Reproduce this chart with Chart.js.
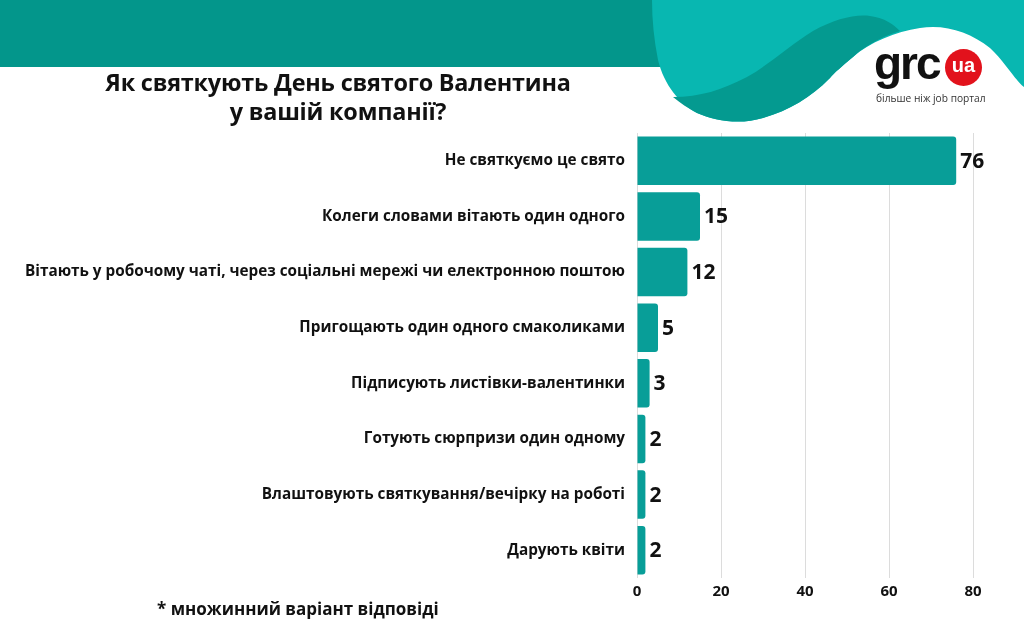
<!DOCTYPE html>
<html><head><meta charset="utf-8">
<script src="https://cdn.jsdelivr.net/npm/chart.js@4.4.0/dist/chart.umd.min.js"></script>
<style>
html,body{margin:0;padding:0;background:#fff;}
#wrap{position:relative;width:1024px;height:625px;overflow:hidden;font-family:"Open Sans",sans-serif;}
#bg{position:absolute;left:0;top:0;}
#c{position:absolute;left:0;top:0;}
.title{position:absolute;left:0px;width:676px;top:68px;text-align:center;font-weight:700;font-size:23.4px;line-height:29px;color:#111;letter-spacing:-0.2px;}
.foot{position:absolute;left:157px;top:597px;font-weight:700;font-size:17px;color:#111;}
.logo{position:absolute;left:874px;top:38px;font-family:"Liberation Sans",Arial,sans-serif;font-weight:700;font-size:46px;letter-spacing:-2px;color:#111;line-height:50px;}
.ua{position:absolute;left:945px;top:49px;width:37px;height:37px;border-radius:50%;background:#E2121C;color:#fff;font-family:"Liberation Sans",Arial,sans-serif;font-weight:700;font-size:20px;text-align:center;line-height:33px;}
.sub{position:absolute;left:876px;top:91px;font-family:"Open Sans",sans-serif;font-size:10.2px;color:#333;}
</style></head>
<body>
<div id="wrap">
<svg id="bg" width="1024" height="625">
  <rect x="0" y="0" width="660" height="67" fill="#03968B"/>
  <path d="M652,0 L1024,0 L1024,87 C1015,80 1005,62 990,48 C970,32 945,24 920,28 C895,32 870,42 853,57 C840,68 835,72 830,78 C810,98 790,110 763,118 C740,125 715,121 697,113 C680,104 664,85 658,60 C654,40 652,20 652,0 Z" fill="#08B7B1"/>
  <path d="M673,97 C700,97 722,90 747,77 C770,64 790,45 813,31 C835,19 855,14 870,16 C885,18 893,24 900,31 C880,37 862,48 853,57 C840,68 835,72 830,78 C810,98 790,110 763,118 C740,125 715,121 697,113 C688,108 680,103 673,97 Z" fill="#049A90"/>
</svg>
<canvas id="c" width="1024" height="625"></canvas>
<div class="title">Як святкують День святого Валентина<br>у вашій компанії?</div>
<div class="logo">grc</div>
<div class="ua">ua</div>
<div class="sub">більше ніж job портал</div>
<div class="foot">* множинний варіант відповіді</div>
</div>
<script>
const categories = [
  "Не святкуємо це свято",
  "Колеги словами вітають один одного",
  "Вітають у робочому чаті, через соціальні мережі чи електронною поштою",
  "Пригощають один одного смаколиками",
  "Підписують листівки-валентинки",
  "Готують сюрпризи один одному",
  "Влаштовують святкування/вечірку на роботі",
  "Дарують квіти"
];
const values = [76, 15, 12, 5, 3, 2, 2, 2];
const xTicks = [0, 20, 40, 60, 80];

const valueLabels = {
  id: 'valueLabels',
  afterDatasetsDraw(chart) {
    const ctx = chart.ctx;
    const meta = chart.getDatasetMeta(0);
    ctx.save();
    ctx.font = '700 21px "Open Sans"';
    ctx.fillStyle = '#111';
    ctx.textBaseline = 'middle';
    ctx.textAlign = 'left';
    meta.data.forEach((bar, i) => {
      ctx.fillText(String(values[i]), bar.x + 4, bar.y + 1);
    });
    ctx.restore();
  }
};

new Chart(document.getElementById('c'), {
  type: 'bar',
  data: {
    labels: categories,
    datasets: [{
      data: values,
      backgroundColor: '#089E98',
      borderRadius: 3,
      borderSkipped: 'start',
      barPercentage: 0.87,
      categoryPercentage: 1
    }]
  },
  options: {
    indexAxis: 'y',
    responsive: false,
    animation: false,
    layout: { padding: { top: 133, right: 51, bottom: 17, left: 0 } },
    plugins: { legend: { display: false }, tooltip: { enabled: false } },
    scales: {
      x: {
        min: 0, max: 80,
        afterBuildTicks(scale) { scale.ticks = xTicks.map(v => ({ value: v })); },
        afterFit(scale) { scale.height = 30; },
        grid: { color: '#dcdcdc', drawTicks: false },
        border: { display: false },
        ticks: { padding: 5, color: '#111', font: { family: 'Open Sans', weight: '700', size: 15 } }
      },
      y: {
        afterFit(scale) { scale.width = 637; },
        grid: { display: false, drawTicks: false },
        border: { display: false },
        ticks: { padding: 12, color: '#111', font: { family: 'Open Sans', weight: '700', size: 15.3 } }
      }
    }
  },
  plugins: [valueLabels]
});
</script>
</body></html>
